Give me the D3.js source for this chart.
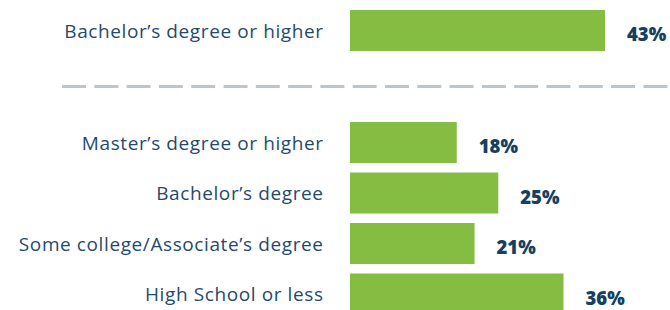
<!DOCTYPE html>
<html>
<head>
<meta charset="utf-8">
<script src="https://cdn.jsdelivr.net/npm/d3@7"></script>
<style>
  body { margin: 0; background: #fff; }
  svg { display: block; }
</style>
</head>
<body>
<div id="chart"></div>
<script>
const topCategories = ["Bachelor’s degree or higher"];
const topValues = [43];
const categories = [
  "Master’s degree or higher",
  "Bachelor’s degree",
  "Some college/Associate’s degree",
  "High School or less",
];
const values = [18, 25, 21, 36];

const width = 670;
const height = 310;
const green = "#84bd41";
const labelColor = "#1f4a6e";
const valueColor = "#163f60";

const svg = d3
  .select("#chart")
  .append("svg")
  .attr("width", width)
  .attr("height", height);

const x = d3.scaleLinear().domain([0, 43]).range([350, 605]);

const yTop = d3
  .scaleBand()
  .domain(topCategories)
  .range([5.25, 55.75])
  .paddingInner(0.188)
  .paddingOuter(0.094);

const yBottom = d3
  .scaleBand()
  .domain(categories)
  .range([117.25, 319.25])
  .paddingInner(0.188)
  .paddingOuter(0.094);

function drawGroup(cats, vals, y) {
  const data = cats.map((c, i) => ({ name: c, value: vals[i] }));
  const g = svg.append("g");

  g.selectAll("rect")
    .data(data)
    .join("rect")
    .attr("x", x(0))
    .attr("y", (d) => y(d.name))
    .attr("width", (d) => x(d.value) - x(0))
    .attr("height", y.bandwidth())
    .attr("fill", green);

  g.selectAll(".cat")
    .data(data)
    .join("text")
    .attr("class", "cat")
    .attr("x", 323.6)
    .attr("y", (d) => y(d.name) + y.bandwidth() / 2)
    .attr("text-anchor", "end")
    .attr("dominant-baseline", "central")
    .style("font-family", "'Open Sans', sans-serif")
    .style("font-size", "19px")
    .style("letter-spacing", "0.6px")
    .attr("fill", labelColor)
    .text((d) => d.name);

  g.selectAll(".val")
    .data(data)
    .join("text")
    .attr("class", "val")
    .attr("x", (d) => x(d.value) + 22)
    .attr("y", (d) => y(d.name) + y.bandwidth() / 2 + 3)
    .attr("dominant-baseline", "central")
    .style("font-family", "'Open Sans', sans-serif")
    .style("font-size", "18.5px")
    .style("font-weight", "800")
    .attr("fill", valueColor)
    .text((d) => d.value + "%");
}

drawGroup(topCategories, topValues, yTop);

svg
  .append("line")
  .attr("x1", 62)
  .attr("x2", width)
  .attr("y1", 86.5)
  .attr("y2", 86.5)
  .attr("stroke", "#bcc5cf")
  .attr("stroke-width", 3)
  .attr("stroke-dasharray", "24 8.3");

drawGroup(categories, values, yBottom);
</script>
</body>
</html>
